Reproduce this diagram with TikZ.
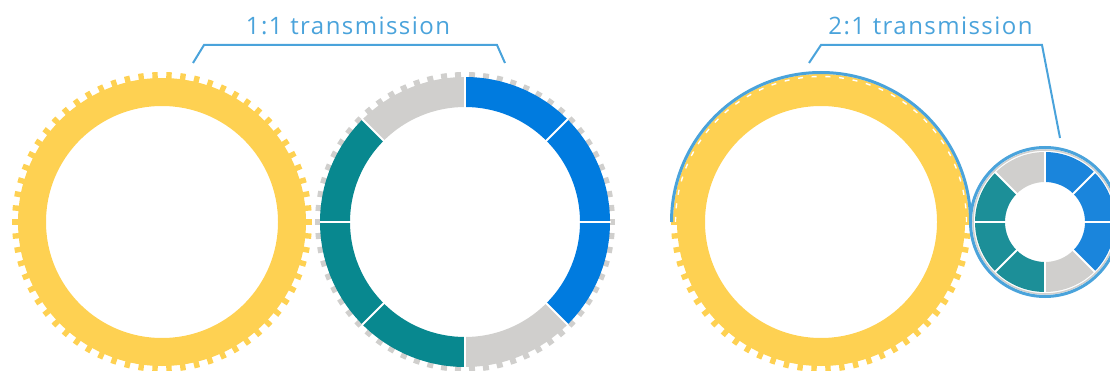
\documentclass[tikz,border=0pt]{standalone}
\usepackage{fontspec}
\setmainfont{Open Sans}
\newfontfamily\lblfont[LetterSpace=6]{Open Sans}
\usetikzlibrary{calc}
\definecolor{gy}{HTML}{FED152}
\definecolor{gb}{HTML}{007BDF}
\definecolor{gt}{HTML}{08888F}
\definecolor{gg}{HTML}{D0CFCD}
\definecolor{sb}{HTML}{1A85DC}
\definecolor{st}{HTML}{1C8F98}
\definecolor{lb}{HTML}{4AA3DB}
\tikzset{
  lbl/.style={text=lb, font=\lblfont\fontsize{24}{28}\selectfont, anchor=base, inner sep=0pt},
  bracket/.style={draw=lb, line width=2pt, line join=miter},
  sepline/.style={draw=white, line width=2pt},
}
\begin{document}
\begin{tikzpicture}[x=1pt,y=1pt]
\useasboundingbox (0,0) rectangle (1110,370);
\clip (0,0) rectangle (1110,370);
\coordinate (g1) at (162,148);
\coordinate (g2) at (465,148);
\coordinate (g3) at (821,148);
\coordinate (g4) at (1045,148);
\def\pitch{5.454545}
% ---- gear 1 (yellow)
\foreach \k in {0,...,65}
  \fill[gy,shift={(g1)},rotate={90+(\k+0.5)*\pitch}] (138,-2.7) rectangle (150,2.7);
\draw[gy, line width=28pt] (g1) circle[radius=130];
% ---- gear 2 (segmented)
\foreach \k in {0,...,65}
  \fill[gg,shift={(g2)},rotate={\k*\pitch}] (138,-3) rectangle (150,3);
\foreach \a/\c in {90/gb,45/gb,0/gb,-45/gg,-90/gt,-135/gt,180/gt,135/gg}{
  \pgfmathsetmacro{\b}{\a-45}
  \fill[\c] ($(g2)+(\a:145)$) arc[start angle=\a, end angle=\b, radius=145]
     -- ($(g2)+(\b:115)$) arc[start angle=\b, end angle=\a, radius=115] -- cycle;
}
\foreach \a in {0,45,...,315}
  \draw[sepline] ($(g2)+(\a:112)$) -- ($(g2)+(\a:145.5)$);
% ---- gear 3 (yellow, meshing upper half)
\foreach \k in {16,...,49}
  \fill[gy,shift={(g3)},rotate={90+(\k+0.5)*\pitch}] (138,-2.7) rectangle (150,2.7);
\draw[gy, line width=28pt] (g3) circle[radius=130];
\draw[gy, line width=6pt] ($(g3)+(0:145)$) arc[start angle=0, end angle=180, radius=145];
\draw[white, line width=1.4pt, dash pattern=on 5pt off 8.7pt] ($(g3)+(0:145.5)$) arc[start angle=0, end angle=180, radius=145.5];
% ---- gear 4 (small segmented)
\foreach \a/\c in {90/sb,45/sb,0/sb,-45/gg,-90/st,-135/st,180/st,135/gg}{
  \pgfmathsetmacro{\b}{\a-45}
  \fill[\c] ($(g4)+(\a:70)$) arc[start angle=\a, end angle=\b, radius=70]
     -- ($(g4)+(\b:40)$) arc[start angle=\b, end angle=\a, radius=40] -- cycle;
}
\foreach \a in {0,45,...,315}
  \draw[sepline] ($(g4)+(\a:38)$) -- ($(g4)+(\a:71)$);
\draw[gg, line width=1.5pt] (g4) circle[radius=72];
% ---- belt outline
\draw[lb, line width=3pt] ($(g3)+(180:149.5)$) arc[start angle=180, end angle=0, radius=149.5];
\draw[lb, line width=3pt] (g4) circle[radius=74.5];
% ---- labels
\node[lbl] (t1) at (348,335) {1:1 transmission};
\node[lbl] (t2) at (930.5,335) {2:1 transmission};
\coordinate (b1a) at (193,307);
\coordinate (b1b) at (204,325);
\coordinate (b1c) at (497,325);
\coordinate (b1d) at (505,307);
\coordinate (b2a) at (809,307);
\coordinate (b2b) at (821,325);
\coordinate (b2c) at (1042,325);
\coordinate (b2d) at (1060,232);
\draw[bracket] (b1a) -- (b1b) -- (b1c) -- (b1d);
\draw[bracket] (b2a) -- (b2b) -- (b2c) -- (b2d);
\end{tikzpicture}
\end{document}
